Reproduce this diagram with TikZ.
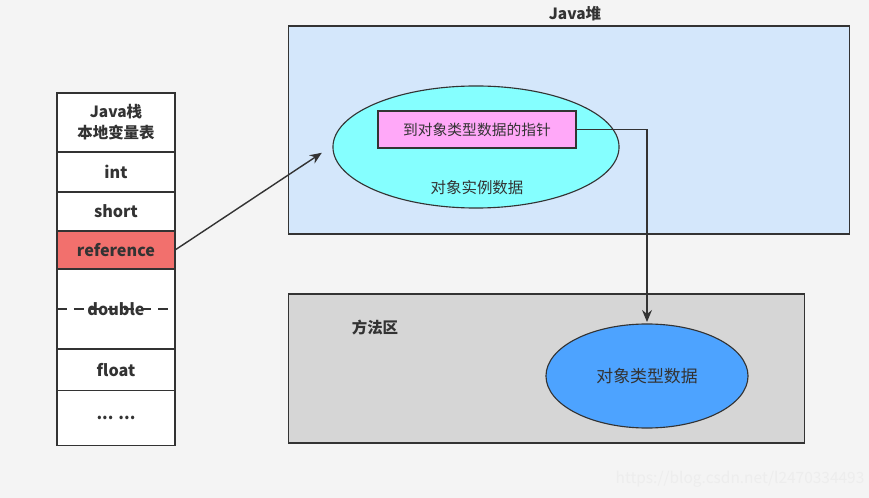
\documentclass[tikz,border=0pt]{standalone}
\usepackage{fontspec}
\setmainfont{Noto Sans CJK SC}
\usetikzlibrary{shapes.geometric, positioning, arrows.meta}
\definecolor{bgcol}{HTML}{F4F4F4}
\definecolor{heapcol}{HTML}{D4E7FB}
\definecolor{instcol}{HTML}{85FFFF}
\definecolor{ptrcol}{HTML}{FFA8F8}
\definecolor{methcol}{HTML}{D6D6D6}
\definecolor{klasscol}{HTML}{4DA3FF}
\definecolor{refcol}{HTML}{F2706D}
\definecolor{inkcol}{HTML}{333333}

\begin{document}
\begin{tikzpicture}[
    x=0.025cm, y=-0.025cm,
    node distance=0pt,
    every node/.style={text=inkcol},
    cell/.style={draw=inkcol, line width=0.8pt, fill=white, minimum width=2.95cm, inner sep=0pt, outer sep=0pt, font=\bfseries\fontsize{11.5}{13}\selectfont},
    area/.style={draw=inkcol, line width=0.8pt, inner sep=0pt},
    blob/.style={ellipse, draw=inkcol, line width=0.8pt, inner sep=0pt},
    link/.style={draw=inkcol, line width=1pt, ->, >={Stealth[length=8.5pt, width=7pt]}, shorten >=1pt}
]
   \useasboundingbox[fill=bgcol] (0,0) rectangle (869,498);

   % Java stack
   \node[cell, minimum height=1.475cm, align=center, font=\bfseries\fontsize{11}{15}\selectfont] (head) at (116,122.5) {Java栈\\本地变量表};
   \node[cell, minimum height=1.0cm] (int) [below=of head] {int};
   \node[cell, minimum height=0.975cm] (short) [below=of int] {short};
   \node[cell, minimum height=0.95cm, fill=refcol] (ref) [below=of short] {reference};
   \node[cell, minimum height=2.0cm] (dbl) [below=of ref] {double};
   \node[cell, minimum height=1.025cm] (flt) [below=of dbl] {float};
   \node[cell, minimum height=1.375cm] (dots) [below=of flt] {... ...};
   \draw[inkcol, line width=0.8pt, dashed, dash pattern=on 7pt off 5pt] (dbl.west) -- (dbl.east);

   % Java heap
   \node[font=\bfseries\fontsize{11}{13}\selectfont] (heaplbl) at (575,14) {Java堆};
   \node[area, fill=heapcol, minimum width=14cm, minimum height=5.2cm] (heap) at (569,130) {};
   \node[blob, fill=instcol, minimum width=7.15cm, minimum height=3.05cm] (inst) at (476,147) {};
   \node[area, fill=ptrcol, minimum width=4.95cm, minimum height=0.925cm, font=\fontsize{10.5}{12}\selectfont] (ptr) at (477,129.5) {到对象类型数据的指针};
   \node[font=\fontsize{11}{13}\selectfont] (instlbl) at (477,188) {对象实例数据};

   % method area
   \node[area, fill=methcol, minimum width=12.875cm, minimum height=3.725cm] (meth) at (546.5,368.5) {};
   \node[font=\bfseries\fontsize{11}{13}\selectfont] (methlbl) at (375,328) {方法区};
   \node[blob, fill=klasscol, minimum width=5.05cm, minimum height=2.6cm, font=\fontsize{12}{14}\selectfont] (klass) at (647,376) {对象类型数据};

   % links
   \coordinate (tip) at (323,152);
   \draw[link] (ref.east) -- (tip);
   \draw[link] (ptr.east) -| (klass.north);

   \node[text=gray!14, font=\fontsize{11}{13}\selectfont] (mark) at (740,479) {https://blog.csdn.net/l2470334493};
\end{tikzpicture}
\end{document}
